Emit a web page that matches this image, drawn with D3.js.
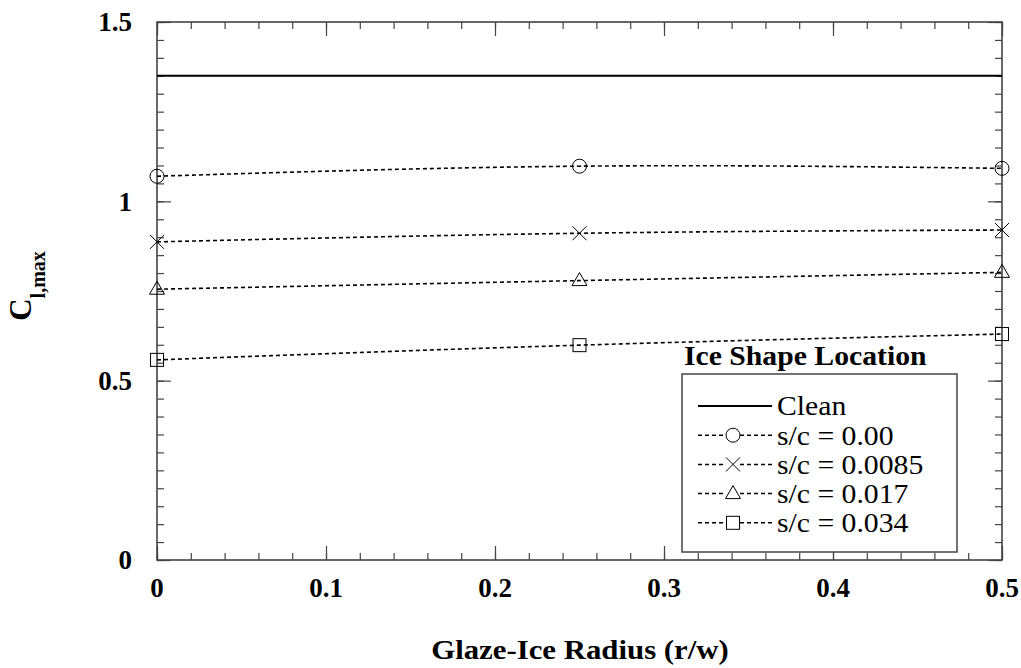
<!DOCTYPE html>
<html>
<head>
<meta charset="utf-8">
<script src="https://cdn.jsdelivr.net/npm/d3@7"></script>
<style>
  html, body { margin: 0; padding: 0; background: #fff; }
  svg { display: block; }
  svg text { font-family: "Times New Roman", "Liberation Serif", Tinos, Times, "DejaVu Serif", serif; }
</style>
</head>
<body>
<svg id="chart" width="1021" height="668"></svg>
<script>
// Glaze-ice radius values (r/w) at which Cl,max was measured
const radius = [0, 0.25, 0.5];
// Clean airfoil reference
const clean = [1.35, 1.35, 1.35];
// Cl,max by ice shape location s/c
const sc000 = [1.070, 1.098, 1.092];
const sc0085 = [0.887, 0.911, 0.920];
const sc017 = [0.755, 0.779, 0.802];
const sc034 = [0.558, 0.599, 0.630];

const seriesNames = ["s/c = 0.00", "s/c = 0.0085", "s/c = 0.017", "s/c = 0.034"];
const seriesValues = [sc000, sc0085, sc017, sc034];
const seriesMarkers = ["circle", "cross", "triangle", "square"];

const xTicks = [0, 0.1, 0.2, 0.3, 0.4, 0.5];
const yTicks = [0, 0.5, 1, 1.5];
const yTickLabels = ["0", "0.5", "1", "1.5"];

const serif = "'Times New Roman', 'Liberation Serif', Tinos, Times, 'DejaVu Serif', serif";

const svg = d3.select("#chart").attr("font-family", serif);
const plotLeft = 157, plotRight = 1002, plotTop = 22, plotBottom = 560;

const x = d3.scaleLinear().domain([0, 0.5]).range([plotLeft, plotRight]);
const y = d3.scaleLinear().domain([0, 1.5]).range([plotBottom, plotTop]);

const frameColor = "#444";
const stretch = 1.1; // wide-set lettering for titles and legend

// Minor and major ticks on all four sides, pointing inward
const xMinor = d3.range(0, 0.5001, 0.02);
const yMinor = d3.range(0, 1.5001, 0.05);

function styleAxis(g) {
  g.select(".domain").remove();
  g.selectAll(".tick line").attr("stroke", frameColor).attr("stroke-width", 1.2);
  g.selectAll(".tick text").remove();
}

svg.append("g").attr("transform", `translate(0,${plotBottom})`)
  .call(d3.axisBottom(x).tickValues(xMinor).tickSize(-7)).call(styleAxis);
svg.append("g").attr("transform", `translate(0,${plotBottom})`)
  .call(d3.axisBottom(x).tickValues(xTicks).tickSize(-14)).call(styleAxis);
svg.append("g").attr("transform", `translate(0,${plotTop})`)
  .call(d3.axisTop(x).tickValues(xMinor).tickSize(-7)).call(styleAxis);
svg.append("g").attr("transform", `translate(0,${plotTop})`)
  .call(d3.axisTop(x).tickValues(xTicks).tickSize(-14)).call(styleAxis);
svg.append("g").attr("transform", `translate(${plotLeft},0)`)
  .call(d3.axisLeft(y).tickValues(yMinor).tickSize(-7)).call(styleAxis);
svg.append("g").attr("transform", `translate(${plotLeft},0)`)
  .call(d3.axisLeft(y).tickValues(yTicks).tickSize(-14)).call(styleAxis);
svg.append("g").attr("transform", `translate(${plotRight},0)`)
  .call(d3.axisRight(y).tickValues(yMinor).tickSize(-7)).call(styleAxis);
svg.append("g").attr("transform", `translate(${plotRight},0)`)
  .call(d3.axisRight(y).tickValues(yTicks).tickSize(-14)).call(styleAxis);

// Plot frame
svg.append("rect")
  .attr("x", plotLeft).attr("y", plotTop)
  .attr("width", plotRight - plotLeft).attr("height", plotBottom - plotTop)
  .attr("fill", "none").attr("stroke", frameColor).attr("stroke-width", 1.6);

// Tick labels
svg.append("g").selectAll("text").data(xTicks).join("text")
  .attr("x", d => x(d)).attr("y", 597)
  .attr("text-anchor", "middle")
  .attr("font-size", 27).attr("font-weight", "bold")
  .text(d => d === 0 ? "0" : d3.format(".1f")(d));

svg.append("g").selectAll("text").data(yTicks).join("text")
  .attr("x", 132).attr("y", d => y(d))
  .attr("dy", "0.35em")
  .attr("text-anchor", "end")
  .attr("font-size", 27).attr("font-weight", "bold")
  .text((d, i) => yTickLabels[i]);

// Axis titles
svg.append("text")
  .attr("transform", `translate(580,659) scale(${stretch},1)`)
  .attr("text-anchor", "middle")
  .attr("font-size", 28).attr("font-weight", "bold")
  .text("Glaze-Ice Radius (r/w)");

const yTitle = svg.append("text")
  .attr("transform", "translate(31,286) rotate(-90)")
  .attr("text-anchor", "middle")
  .attr("font-weight", "bold");
yTitle.append("tspan").attr("font-size", 31).text("C");
yTitle.append("tspan").attr("font-size", 20).attr("dy", 14).text("l,max");

// Marker shapes
function drawMarker(g, type, cx, cy) {
  const s = 7;
  let m;
  if (type === "circle") {
    m = g.append("circle").attr("cx", cx).attr("cy", cy).attr("r", s);
  } else if (type === "cross") {
    m = g.append("path").attr("d",
      `M${cx - s},${cy - s}L${cx + s},${cy + s}M${cx - s},${cy + s}L${cx + s},${cy - s}`);
  } else if (type === "triangle") {
    m = g.append("path").attr("d",
      `M${cx},${cy - 8}L${cx + 7.5},${cy + 5}L${cx - 7.5},${cy + 5}Z`);
  } else {
    m = g.append("rect").attr("x", cx - 6.5).attr("y", cy - 6.5).attr("width", 13).attr("height", 13);
  }
  m.attr("fill", "none").attr("stroke", "#000").attr("stroke-width", 1);
}

// Clean reference line
const line = d3.line().x((d, i) => x(radius[i])).y(d => y(d));
svg.append("path").datum(clean)
  .attr("d", line)
  .attr("fill", "none").attr("stroke", "#000").attr("stroke-width", 2);

// Iced series: smooth dashed curves with markers
const curve = d3.line().x((d, i) => x(radius[i])).y(d => y(d)).curve(d3.curveNatural);
seriesValues.forEach((vals, k) => {
  svg.append("path").datum(vals)
    .attr("d", curve)
    .attr("fill", "none").attr("stroke", "#000")
    .attr("stroke-width", 1.6).attr("stroke-dasharray", "4,3");
  const g = svg.append("g");
  vals.forEach((v, i) => drawMarker(g, seriesMarkers[k], x(radius[i]), y(v)));
});

// Legend
const legend = svg.append("g");
legend.append("text")
  .attr("transform", `translate(684,365) scale(${stretch},1)`)
  .attr("font-size", 27).attr("font-weight", "bold")
  .text("Ice Shape Location");
legend.append("rect")
  .attr("x", 682).attr("y", 374).attr("width", 275).attr("height", 178)
  .attr("fill", "#fff").attr("stroke", frameColor).attr("stroke-width", 1.5);

const legendNames = ["Clean"].concat(seriesNames);
const rowY = d => 406 + d * 29.2;
legendNames.forEach((name, i) => {
  const yy = rowY(i);
  const l = legend.append("line")
    .attr("x1", 698).attr("x2", 772).attr("y1", yy).attr("y2", yy)
    .attr("stroke", "#000");
  if (i === 0) {
    l.attr("stroke-width", 2);
  } else {
    l.attr("stroke-width", 1.5).attr("stroke-dasharray", "4,3");
    legend.append("rect").attr("x", 726).attr("y", yy - 8).attr("width", 14).attr("height", 16).attr("fill", "#fff");
    drawMarker(legend, seriesMarkers[i - 1], 733, yy);
  }
  legend.append("text")
    .attr("transform", `translate(777,${yy}) scale(${stretch},1)`)
    .attr("dy", "0.35em")
    .attr("font-size", 27)
    .text(name);
});
</script>
</body>
</html>
